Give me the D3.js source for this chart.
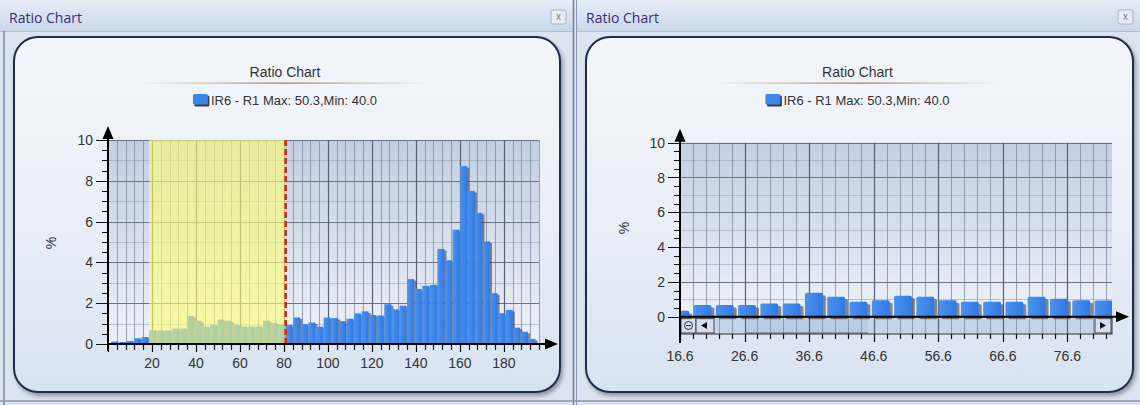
<!DOCTYPE html>
<html><head><meta charset="utf-8">
<script src="https://cdn.jsdelivr.net/npm/d3@7"></script>
<style>
body{margin:0;background:#dde5ef;}
svg{display:block;font-family:Arial,"Liberation Sans",sans-serif;}
</style>
</head><body>
<svg id="c" width="1140" height="405"></svg>
<script>
// ---------- data ----------
const windowTitle = "Ratio Chart";
const chartTitle = "Ratio Chart";
const legendLabel = "IR6 - R1 Max: 50.3,Min: 40.0";
const yAxisLabel = "%";
const binWidth = 3.45;
const binStarts = [1.45, 4.9, 8.35, 11.8, 15.25, 18.7, 22.15, 25.6, 29.05, 32.5, 35.95, 39.4, 42.85, 46.3,
  49.75, 53.2, 56.65, 60.1, 63.55, 67, 70.45, 73.9, 77.35, 80.8, 84.25, 87.7, 91.15, 94.6, 98.05, 101.5,
  104.95, 108.4, 111.85, 115.3, 118.75, 122.2, 125.65, 129.1, 132.55, 136, 139.45, 142.9, 146.35, 149.8,
  153.25, 156.7, 160.15, 163.6, 167.05, 170.5, 173.95, 177.4, 180.85, 184.3, 187.75, 191.2];
const ratioValues = [0.12, 0.10, 0.15, 0.28, 0.34, 0.67, 0.67, 0.67, 0.76, 0.76, 1.37, 1.14, 0.86, 0.95,
  1.20, 1.14, 0.95, 0.86, 0.86, 0.86, 1.14, 1.03, 0.95, 0.93, 1.30, 0.97, 1.05, 0.85, 1.30, 1.27,
  1.12, 1.24, 1.50, 1.60, 1.42, 1.40, 1.95, 1.70, 1.88, 3.18, 2.70, 2.85, 2.90, 4.66,
  4.10, 5.60, 8.72, 7.50, 6.43, 5.03, 2.49, 1.51, 1.67, 0.80, 0.60, 0.25];
const yTicks = [0, 2, 4, 6, 8, 10];
const leftXTicks = [20, 40, 60, 80, 100, 120, 140, 160, 180];
const rightXTicks = [16.6, 26.6, 36.6, 46.6, 56.6, 66.6, 76.6];
const highlightRange = [18.7, 80.8];   // yellow band, red cursor at end
const leftXDomain = [0, 196];
const rightXDomain = [16.6, 83.5];
const yDomain = [0, 10];

const bins = binStarts.map((s, i) => ({ start: s, end: s + binWidth, value: ratioValues[i] }));

// ---------- svg + defs ----------
const svg = d3.select("#c");
const defs = svg.append("defs");
function vgrad(id, stops, horiz) {
  const g = defs.append("linearGradient").attr("id", id)
    .attr("x1", 0).attr("y1", 0).attr("x2", horiz ? 1 : 0).attr("y2", horiz ? 0 : 1);
  stops.forEach(s => g.append("stop").attr("offset", s[0]).attr("stop-color", s[1]).attr("stop-opacity", s[2] == null ? 1 : s[2]));
}
vgrad("tb", [[0, "#e6edf6"], [1, "#c9d7e9"]]);
vgrad("panel", [[0, "#f3f6fb"], [0.5, "#e9eff7"], [1, "#d8e3f0"]]);
vgrad("plot", [[0, "#c2cee2"], [1, "#edf1f8"]]);
vgrad("bar", [[0, "#4c93f0"], [1, "#2f79e2"]], true);
vgrad("tline", [[0, "#b08a64", 0], [0.5, "#a0744c", 1], [1, "#b08a64", 0]], true);
const f = defs.append("filter").attr("id", "sh").attr("x", "-5%").attr("y", "-5%").attr("width", "110%").attr("height", "115%");
f.append("feDropShadow").attr("dx", 2).attr("dy", 3).attr("stdDeviation", 2.2).attr("flood-color", "#000").attr("flood-opacity", 0.35);

// ---------- window frames ----------
function frame(ox, w, rx0, rx1) {
  const g = svg.append("g");
  g.append("rect").attr("x", ox).attr("y", 0).attr("width", w).attr("height", 405).attr("fill", "#dce4ef");
  g.append("rect").attr("x", ox).attr("y", 0).attr("width", w).attr("height", 31).attr("fill", "url(#tb)");
  g.append("line").attr("x1", ox).attr("x2", ox + w).attr("y1", 31.5).attr("y2", 31.5).attr("stroke", "#aebdd0");
  g.append("text").attr("x", ox + 9).attr("y", 23).attr("font-size", 14).attr("fill", "#3b2c78")
    .attr("font-family", "'Open Sans',Arial,sans-serif").text(windowTitle);
  const bx = ox + w - 22;
  g.append("rect").attr("x", bx).attr("y", 10).attr("width", 15).attr("height", 14).attr("rx", 2)
    .attr("fill", "#e9edf3").attr("stroke", "#a9b3c0");
  g.append("text").attr("x", bx + 7.5).attr("y", 20).attr("text-anchor", "middle").attr("font-size", 10)
    .attr("fill", "#7a7f88").text("x");
  g.append("rect").attr("x", rx0).attr("y", 37).attr("width", rx1 - rx0).attr("height", 355).attr("rx", 24)
    .attr("fill", "url(#panel)").attr("stroke", "#1d2d4b").attr("stroke-width", 2).attr("filter", "url(#sh)");
  // title
  const cx = (rx0 + rx1) / 2 - 2;
  g.append("text").attr("x", cx).attr("y", 77).attr("text-anchor", "middle").attr("font-size", 14)
    .attr("fill", "#333").text(chartTitle);
  g.append("rect").attr("x", cx - 145).attr("y", 82.5).attr("width", 290).attr("height", 1.2).attr("fill", "url(#tline)");
  // legend
  const lg = g.append("g");
  const lt = lg.append("text").attr("y", 104.5).attr("font-size", 13).attr("fill", "#333").text(legendLabel);
  const tw = lt.node().getComputedTextLength();
  const total = 18 + tw;
  const lx = cx - total / 2;
  lt.attr("x", lx + 18);
  lg.append("rect").attr("x", lx + 1.5).attr("y", 95.5).attr("width", 15).attr("height", 11).attr("rx", 1.5).attr("fill", "#3d3d44");
  lg.append("rect").attr("x", lx).attr("y", 94).attr("width", 15).attr("height", 10.5).attr("rx", 1.5).attr("fill", "#3b86ea");
  return g;
}
frame(0, 573, 14, 560);
frame(577, 563, 586, 1133);
// borders / separators
svg.append("line").attr("x1", 4).attr("x2", 4).attr("y1", 31).attr("y2", 405).attr("stroke", "#7d8ca2").attr("stroke-width", 1.5);
svg.append("line").attr("x1", 573.5).attr("x2", 573.5).attr("y1", 0).attr("y2", 405).attr("stroke", "#6f7f96").attr("stroke-width", 1.5);
svg.append("line").attr("x1", 576.5).attr("x2", 576.5).attr("y1", 0).attr("y2", 405).attr("stroke", "#8796ab").attr("stroke-width", 1);
svg.append("line").attr("x1", 0).attr("x2", 1140).attr("y1", 401).attr("y2", 401).attr("stroke", "#8696ab").attr("stroke-width", 1.5);

// ---------- common axis drawing ----------
function drawAxes(g, x, y, opts) {
  const [x0, x1] = x.range();
  const y0 = y(0), yTop = y(10);
  // y minor/major ticks
  const yMinor = d3.range(yDomain[0], yDomain[1] + 0.01, 0.5);
  g.append("g").selectAll("line").data(yMinor).join("line")
    .attr("x1", d => x0 - (d % 2 === 0 ? 12 : 6)).attr("x2", x0)
    .attr("y1", d => Math.round(y(d)) + 0.5).attr("y2", d => Math.round(y(d)) + 0.5)
    .attr("stroke", "#111").attr("stroke-width", 1);
  g.append("g").selectAll("text").data(yTicks).join("text")
    .attr("x", x0 - 15).attr("y", d => y(d)).attr("dy", "0.36em").attr("text-anchor", "end")
    .attr("font-size", 14).attr("fill", "#333").text(d => d);
  // y axis line + arrow
  g.append("line").attr("x1", x0).attr("x2", x0).attr("y1", opts.yAxisBottom).attr("y2", yTop - 8)
    .attr("stroke", "#000").attr("stroke-width", 2);
  g.append("path").attr("d", `M${x0},${yTop - 14} L${x0 - 5.5},${yTop - 1} L${x0 + 5.5},${yTop - 1} Z`).attr("fill", "#000");
  // x axis line + arrow
  g.append("line").attr("x1", x0).attr("x2", opts.arrowX - 6).attr("y1", y0).attr("y2", y0)
    .attr("stroke", "#000").attr("stroke-width", 2);
  g.append("path").attr("d", `M${opts.arrowX},${y0} L${opts.arrowX - 13},${y0 - 5.5} L${opts.arrowX - 13},${y0 + 5.5} Z`).attr("fill", "#000");
  // % label
  g.append("text").attr("transform", `translate(${opts.pctX},${opts.pctY}) rotate(-90)`)
    .attr("text-anchor", "middle").attr("dy", "0.35em").attr("font-size", 14).attr("fill", "#333").text(yAxisLabel);
}

function drawGrid(g, x, y, vMinor, vMajor, bottom) {
  const [x0, x1] = x.range();
  const yTop = y(10);
  g.append("rect").attr("x", x0).attr("y", yTop).attr("width", x1 - x0).attr("height", y(0) - yTop).attr("fill", "url(#plot)");
  const hMinor = [1, 3, 5, 7, 9], hMajor = [2, 4, 6, 8, 10];
  g.append("g").selectAll("line").data(hMinor).join("line")
    .attr("x1", x0).attr("x2", x1).attr("y1", d => Math.round(y(d)) + 0.5).attr("y2", d => Math.round(y(d)) + 0.5)
    .attr("stroke", "#9aa6b8").attr("stroke-width", 1).attr("opacity", 0.6);
  g.append("g").selectAll("line").data(vMinor).join("line")
    .attr("x1", d => Math.round(x(d)) + 0.5).attr("x2", d => Math.round(x(d)) + 0.5).attr("y1", yTop).attr("y2", bottom)
    .attr("stroke", "#7f899a").attr("stroke-width", 1).attr("opacity", 0.75);
  g.append("g").selectAll("line").data(hMajor).join("line")
    .attr("x1", x0).attr("x2", x1).attr("y1", d => Math.round(y(d)) + 0.5).attr("y2", d => Math.round(y(d)) + 0.5)
    .attr("stroke", "#6b7485").attr("stroke-width", 1);
  g.append("g").selectAll("line").data(vMajor).join("line")
    .attr("x1", d => Math.round(x(d)) + 0.5).attr("x2", d => Math.round(x(d)) + 0.5).attr("y1", yTop).attr("y2", bottom)
    .attr("stroke", "#586172").attr("stroke-width", 1.2);
}

// ---------- left chart ----------
{
  const g = svg.append("g");
  const x = d3.scaleLinear().domain(leftXDomain).range([108, 539]);
  const y = d3.scaleLinear().domain(yDomain).range([344, 140]);
  const vAll = d3.range(4, leftXDomain[1] + 0.1, 4);
  drawGrid(g, x, y, vAll.filter(d => d % 20 !== 0), vAll.filter(d => d % 20 === 0), y(0));
  // bars: shadow then bar
  g.append("g").selectAll("rect").data(bins).join("rect")
    .attr("x", d => x(d.start) + 1.5).attr("y", d => y(d.value) + 1.5)
    .attr("width", d => x(d.end) - x(d.start)).attr("height", d => y(0) - y(d.value) - 1.5)
    .attr("fill", "#2c2f3a").attr("opacity", 0.55);
  g.append("g").selectAll("rect").data(bins).join("rect")
    .attr("x", d => x(d.start)).attr("y", d => y(d.value))
    .attr("width", d => x(d.end) - x(d.start) - 0.6).attr("height", d => y(0) - y(d.value))
    .attr("fill", "url(#bar)");
  // highlight band
  g.append("rect").attr("x", x(highlightRange[0])).attr("y", y(10))
    .attr("width", x(highlightRange[1]) - x(highlightRange[0])).attr("height", y(0) - y(10))
    .attr("fill", "#ffff72").attr("opacity", 0.62);
  g.append("line").attr("x1", x(highlightRange[1])).attr("x2", x(highlightRange[1]))
    .attr("y1", y(10)).attr("y2", y(0)).attr("stroke", "#d02a1c").attr("stroke-width", 2.6).attr("stroke-dasharray", "6,3");
  // x ticks
  g.append("g").selectAll("line").data(d3.range(0, leftXDomain[1] + 0.1, 4)).join("line")
    .attr("x1", d => Math.round(x(d)) + 0.5).attr("x2", d => Math.round(x(d)) + 0.5)
    .attr("y1", y(0)).attr("y2", d => y(0) + (d % 20 === 0 ? 8 : 6)).attr("stroke", "#111").attr("stroke-width", 1.2);
  g.append("g").selectAll("text").data(leftXTicks).join("text")
    .attr("x", d => x(d)).attr("y", 368).attr("text-anchor", "middle").attr("font-size", 14).attr("fill", "#333").text(d => d);
  drawAxes(g, x, y, { yAxisBottom: 351, arrowX: 558, pctX: 51, pctY: 243 });
}

// ---------- right chart ----------
{
  const g = svg.append("g");
  const x = d3.scaleLinear().domain(rightXDomain).range([680, 1112]);
  const y = d3.scaleLinear().domain(yDomain).range([316.7, 142.7]);
  const vAll = d3.range(18.6, rightXDomain[1], 2).map(v => +v.toFixed(1));
  const isMajor = d => Math.abs(((d - 16.6) / 10) - Math.round((d - 16.6) / 10)) < 1e-6;
  // scrollbar band underlay
  g.append("rect").attr("x", 680).attr("y", 317).attr("width", 432).attr("height", 17).attr("fill", "#c6d4ea");
  g.append("rect").attr("x", 745).attr("y", 318).attr("width", 123).attr("height", 15).attr("fill", "#bccbe3");
  drawGrid(g, x, y, vAll.filter(d => !isMajor(d)), vAll.filter(isMajor), 334);
  g.append("line").attr("x1", 745).attr("x2", 868).attr("y1", 333).attr("y2", 333).attr("stroke", "#5a6477").attr("stroke-width", 1.2);
  g.append("rect").attr("x", 680).attr("y", 317).attr("width", 432).attr("height", 17).attr("fill", "none").attr("stroke", "#333").attr("stroke-width", 1);
  // scrollbar buttons
  g.append("rect").attr("x", 681).attr("y", 318).attr("width", 15).attr("height", 15).attr("fill", "#d3deef").attr("stroke", "#444");
  g.append("circle").attr("cx", 688.5).attr("cy", 325.5).attr("r", 4).attr("fill", "none").attr("stroke", "#333").attr("stroke-width", 1);
  g.append("line").attr("x1", 686).attr("x2", 691).attr("y1", 325.5).attr("y2", 325.5).attr("stroke", "#333");
  g.append("rect").attr("x", 696).attr("y", 318).attr("width", 18).attr("height", 15).attr("fill", "#d3deef").attr("stroke", "#444");
  g.append("path").attr("d", "M701,325.5 L707,322 L707,329 Z").attr("fill", "#111");
  g.append("rect").attr("x", 1095).attr("y", 318).attr("width", 16).attr("height", 15).attr("fill", "#d3deef").attr("stroke", "#444");
  g.append("path").attr("d", "M1106,325.5 L1100,322 L1100,329 Z").attr("fill", "#111");
  // bars (clipped)
  defs.append("clipPath").attr("id", "clipR").append("rect").attr("x", 680).attr("y", 120).attr("width", 432).attr("height", 200);
  const bg = g.append("g").attr("clip-path", "url(#clipR)");
  const bw = d => (x(d.end) - x(d.start)) * 0.8;
  bg.append("g").selectAll("rect").data(bins).join("rect")
    .attr("x", d => x(d.start) + 3).attr("y", d => y(d.value) + 2.5)
    .attr("width", bw).attr("height", d => y(0) - y(d.value)).attr("rx", 1.5)
    .attr("fill", "#3a3d47").attr("opacity", 0.6);
  bg.append("g").selectAll("rect").data(bins).join("rect")
    .attr("x", d => x(d.start)).attr("y", d => y(d.value))
    .attr("width", bw).attr("height", d => y(0) - y(d.value)).attr("rx", 1.5)
    .attr("fill", "url(#bar)");
  // x ticks below scrollbar
  g.append("g").selectAll("line").data([16.6].concat(vAll)).join("line")
    .attr("x1", d => Math.round(x(d)) + 0.5).attr("x2", d => Math.round(x(d)) + 0.5)
    .attr("y1", 334).attr("y2", d => 334 + (isMajor(d) ? 8 : 5)).attr("stroke", "#111").attr("stroke-width", 1.2);
  g.append("g").selectAll("text").data(rightXTicks).join("text")
    .attr("x", d => x(d)).attr("y", 361).attr("text-anchor", "middle").attr("font-size", 14).attr("fill", "#333").text(d => d.toFixed(1));
  drawAxes(g, x, y, { yAxisBottom: 343, arrowX: 1129, pctX: 624, pctY: 228 });
}
</script>
</body></html>
